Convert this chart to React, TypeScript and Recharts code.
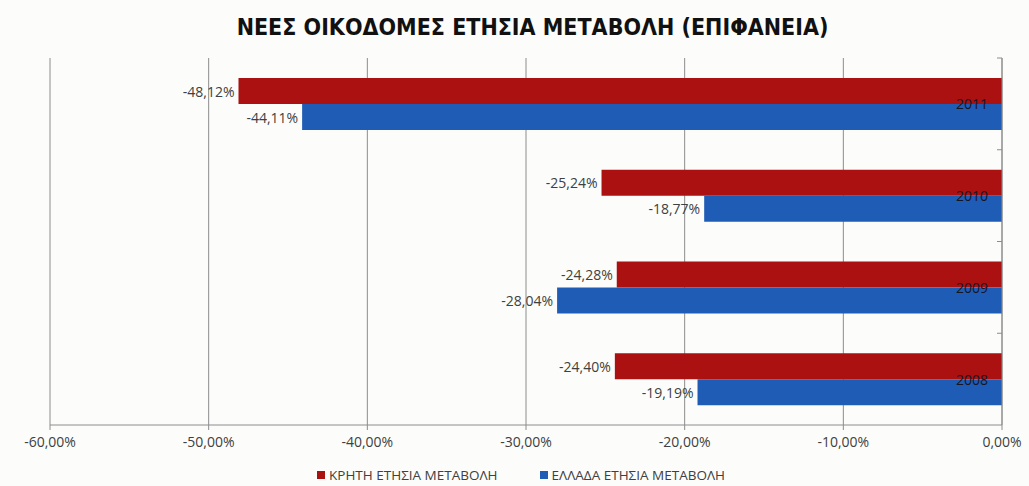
import React from 'react';
import {
  BarChart,
  Bar,
  XAxis,
  YAxis,
  CartesianGrid,
  LabelList,
} from 'recharts';

// years, top to bottom as in the chart
const years = ['2011', '2010', '2009', '2008'];
const creteChange = [-48.12, -25.24, -24.28, -24.4];
const greeceChange = [-44.11, -18.77, -28.04, -19.19];
const xTicks = [-60, -50, -40, -30, -20, -10, 0];

const CRETE = 'ΚΡΗΤΗ ΕΤΗΣΙΑ ΜΕΤΑΒΟΛΗ';
const GREECE = 'ΕΛΛΑΔΑ ΕΤΗΣΙΑ ΜΕΤΑΒΟΛΗ';

const data = years.map((y, i) => ({
  year: y,
  crete: creteChange[i],
  greece: greeceChange[i],
}));

const RED = '#ab1111';
const BLUE = '#1f5cb6';
const GRID = '#8c8c8c';
const FONT = "'Open Sans', 'DejaVu Sans', sans-serif";

const W = 1029;
const H = 486;
const Y_AXIS_W = 27;
const margin = { top: 58, right: 0, left: 50, bottom: 41 };
const X_AXIS_H = 20;
const AXIS_X = W - margin.right - Y_AXIS_W;
const bandHalf = (H - margin.top - margin.bottom - X_AXIS_H) / years.length / 2;

const pct = (v: number) => v.toFixed(2).replace('.', ',') + '%';

const ValueLabel = (props: any) => {
  const { x, y, width, height, value } = props;
  const left = Math.min(x, x + width);
  return (
    <text
      x={left - 4}
      y={y + height / 2}
      textAnchor="end"
      dominantBaseline="central"
      fill="#404040"
      fontSize={14}
      fontFamily={FONT}
    >
      {pct(value)}
    </text>
  );
};

const YearTick = (props: any) => {
  const { y, payload, index } = props;
  return (
    <g>
      <text
        x={AXIS_X - 14}
        y={y}
        textAnchor="end"
        dominantBaseline="central"
        fill="#15152a"
        fontSize={14}
        fontFamily={FONT}
      >
        {payload.value}
      </text>
      {index < years.length - 1 && (
        <line x1={AXIS_X - 5} x2={AXIS_X} y1={y + bandHalf} y2={y + bandHalf} stroke={GRID} />
      )}
      {index === 0 && (
        <line x1={AXIS_X - 5} x2={AXIS_X} y1={y - bandHalf} y2={y - bandHalf} stroke={GRID} />
      )}
    </g>
  );
};

const LegendItem = ({ color, label }: { color: string; label: string }) => (
  <div style={{ display: 'flex', alignItems: 'center' }}>
    <div style={{ width: 8, height: 8, background: color, marginRight: 4 }} />
    <span style={{ fontSize: 13.5, color: '#404040', fontFamily: FONT }}>{label}</span>
  </div>
);

export default function App() {
  return (
    <div
      style={{
        position: 'absolute',
        left: 0,
        top: 0,
        width: W,
        height: H,
        background: '#fcfdfb',
      }}
    >
      <div
        style={{
          position: 'absolute',
          top: 14,
          left: 18,
          width: W,
          textAlign: 'center',
          fontFamily: "'Liberation Sans Narrow', 'DejaVu Sans Condensed', sans-serif",
          fontWeight: 'bold',
          fontSize: 23,
          color: '#111',
        }}
      >
        ΝΕΕΣ ΟΙΚΟΔΟΜΕΣ ΕΤΗΣΙΑ ΜΕΤΑΒΟΛΗ (ΕΠΙΦΑΝΕΙΑ)
      </div>
      <BarChart
        width={W}
        height={H}
        data={data}
        layout="vertical"
        margin={margin}
        barSize={26}
        barGap={0}
      >
        <CartesianGrid horizontal={false} stroke={GRID} />
        <XAxis
          type="number"
          domain={[-60, 0]}
          ticks={xTicks}
          tickFormatter={pct}
          stroke={GRID}
          tickSize={5}
          height={X_AXIS_H}
          tick={{ fill: '#404040', fontSize: 14, fontFamily: FONT }}
          tickMargin={7}
        />
        <YAxis
          type="category"
          dataKey="year"
          orientation="right"
          width={Y_AXIS_W}
          stroke={GRID}
          tickLine={false}
          tick={(p: any) => <YearTick {...p} />}
        />
        <Bar dataKey="crete" name={CRETE} fill={RED} isAnimationActive={false}>
          <LabelList dataKey="crete" content={<ValueLabel />} />
        </Bar>
        <Bar dataKey="greece" name={GREECE} fill={BLUE} isAnimationActive={false}>
          <LabelList dataKey="greece" content={<ValueLabel />} />
        </Bar>
      </BarChart>
      <div
        style={{
          position: 'absolute',
          top: 466,
          left: 317,
          display: 'flex',
          gap: 42,
        }}
      >
        <LegendItem color={RED} label={CRETE} />
        <LegendItem color={BLUE} label={GREECE} />
      </div>
    </div>
  );
}
